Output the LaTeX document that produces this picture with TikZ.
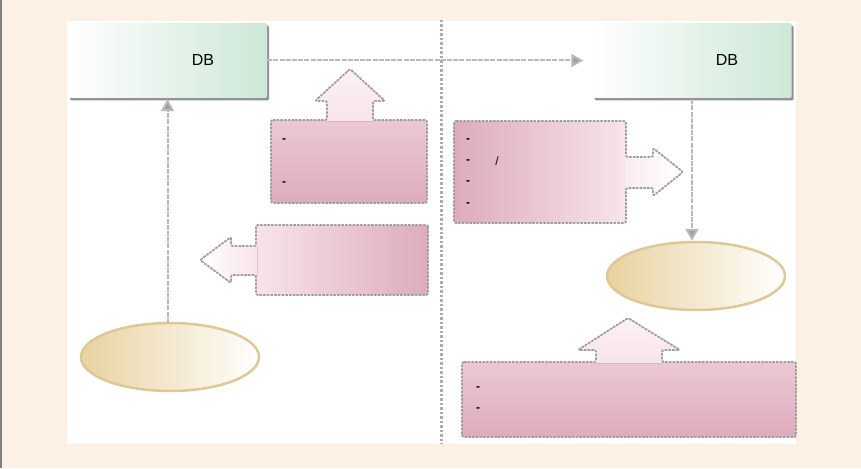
\documentclass[tikz,border=0pt]{standalone}
\usepackage{fontspec}
\setmainfont{Liberation Sans}
\usetikzlibrary{arrows.meta,shapes.geometric,shadows}
\definecolor{bg}{RGB}{253,241,229}
\definecolor{dbg}{RGB}{205,232,215}
\definecolor{pinkD}{RGB}{221,172,188}
\definecolor{pinkM}{RGB}{236,200,212}
\definecolor{pinkL}{RGB}{248,228,234}
\definecolor{tanc}{RGB}{232,210,160}
\definecolor{tanb}{RGB}{222,200,150}
\definecolor{lineg}{RGB}{185,185,185}
\begin{document}
\begin{tikzpicture}[x=1pt,y=-1pt,
  dbbox/.style={rectangle, inner sep=0pt, minimum width=199pt, minimum height=75pt,
    left color=white, right color=dbg, rounded corners=1.5pt,
    drop shadow={shadow xshift=2pt, shadow yshift=-2.5pt, fill=gray!85, opacity=1}},
  dbtext/.style={font=\fontsize{16}{18}\selectfont, inner sep=0pt},
  dashtext/.style={font=\fontsize{12}{14}\selectfont\bfseries, inner sep=0pt},
  ell/.style={ellipse, inner sep=0pt, minimum width=178pt, minimum height=68pt,
    left color=tanc, right color=white, draw=tanb, line width=2.5pt},
  cbox/.style={rectangle, inner sep=0pt, rounded corners=2pt},
  outline/.style={draw=gray!75, line width=1.8pt, dash pattern=on 2.5pt off 1.2pt, rounded corners=2pt},
  conn/.style={draw=lineg, line width=2pt, dash pattern=on 5pt off 1.2pt, -{Triangle[length=12pt,width=13pt,fill=gray!75]}}
]
\useasboundingbox (0,0) rectangle (861,468);
\fill[bg] (0,0) rectangle (861,468);
\draw[gray, line width=2pt] (1,0) -- (1,468);
\fill[white] (67,21) rectangle (796,444);

% divider
\draw[gray!65, line width=3pt, dash pattern=on 2.5pt off 2pt] (441,20) -- (441,444);

% DB boxes
\node[dbbox] (db1) at (167.5,60.5) {};
\node[dbtext] (db1t) at (203,60) {DB};
\node[dbbox] (db2) at (692,60.5) {};
\node[dbtext] (db2t) at (727,60) {DB};

% ellipses
\node[ell] (el1) at (170,357) {};
\node[ell] (el2) at (696,276) {};

% callout box 1 (arrow up)
\node[cbox, minimum width=156pt, minimum height=83pt, top color=pinkM, bottom color=pinkD] (cb1) at (349,161.5) {};
\fill[top color=pinkL!50, bottom color=pinkL] (327,121) -- (327,101) -- (315,101) -- (350,69) -- (385,101) -- (373,101) -- (373,121) -- cycle;
\draw[outline] (271,120) -- (327,120) -- (327,101) -- (315,101) -- (350,69) -- (385,101) -- (373,101) -- (373,120) -- (427,120) -- (427,203) -- (271,203) -- cycle;
\node[dashtext] (t11) at (284,141) {-};
\node[dashtext] (t12) at (284,184) {-};

% callout box 2 (arrow right)
\node[cbox, minimum width=172pt, minimum height=102pt, left color=pinkD, right color=pinkL] (cb2) at (540,172) {};
\fill[left color=pinkL!70, right color=white] (625,157) -- (653,157) -- (653,148) -- (683,172) -- (653,196) -- (653,188) -- (625,188) -- cycle;
\draw[outline] (454,121) -- (626,121) -- (626,157) -- (653,157) -- (653,148) -- (683,172) -- (653,196) -- (653,188) -- (626,188) -- (626,223) -- (454,223) -- cycle;
\node[dashtext] (t21) at (468,141) {-};
\node[dashtext] (t22) at (468,162) {-};
\node[dashtext] (t23) at (468,183) {-};
\node[dashtext] (t24) at (468,205) {-};
\node[font=\fontsize{12}{14}\selectfont, inner sep=0pt] (t25) at (497,161) {/};

% callout box 3 (arrow left)
\node[cbox, minimum width=172pt, minimum height=70pt, left color=pinkL, right color=pinkD] (cb3) at (342,260) {};
\fill[left color=white, right color=pinkL] (257,246) -- (231,246) -- (231,237) -- (200,260) -- (231,283) -- (231,275) -- (257,275) -- cycle;
\draw[outline] (428,225) -- (428,295) -- (256,295) -- (256,275) -- (231,275) -- (231,283) -- (200,260) -- (231,237) -- (231,246) -- (256,246) -- (256,225) -- cycle;

% callout box 4 (arrow up)
\node[cbox, minimum width=334pt, minimum height=75pt, top color=pinkM, bottom color=pinkD] (cb4) at (629,399.5) {};
\fill[top color=pinkL!50, bottom color=pinkL] (596,363) -- (596,350) -- (578,350) -- (628,318) -- (680,350) -- (662,350) -- (662,363) -- cycle;
\draw[outline] (462,362) -- (596,362) -- (596,350) -- (578,350) -- (628,318) -- (680,350) -- (662,350) -- (662,362) -- (796,362) -- (796,437) -- (462,437) -- cycle;
\node[dashtext] (t41) at (478,389) {-};
\node[dashtext] (t42) at (478,410) {-};

% connectors
\coordinate (hend) at ([xshift=-9pt]db2.west);
\draw[conn] (db1.east) -- (hend);
\draw[conn] ([yshift=-1pt]db1.south |- el1.north) -- ([yshift=-1pt]db1.south);
\draw[conn] ([yshift=-1pt]db2.south) -- (db2.south |- el2.north);
\end{tikzpicture}
\end{document}
